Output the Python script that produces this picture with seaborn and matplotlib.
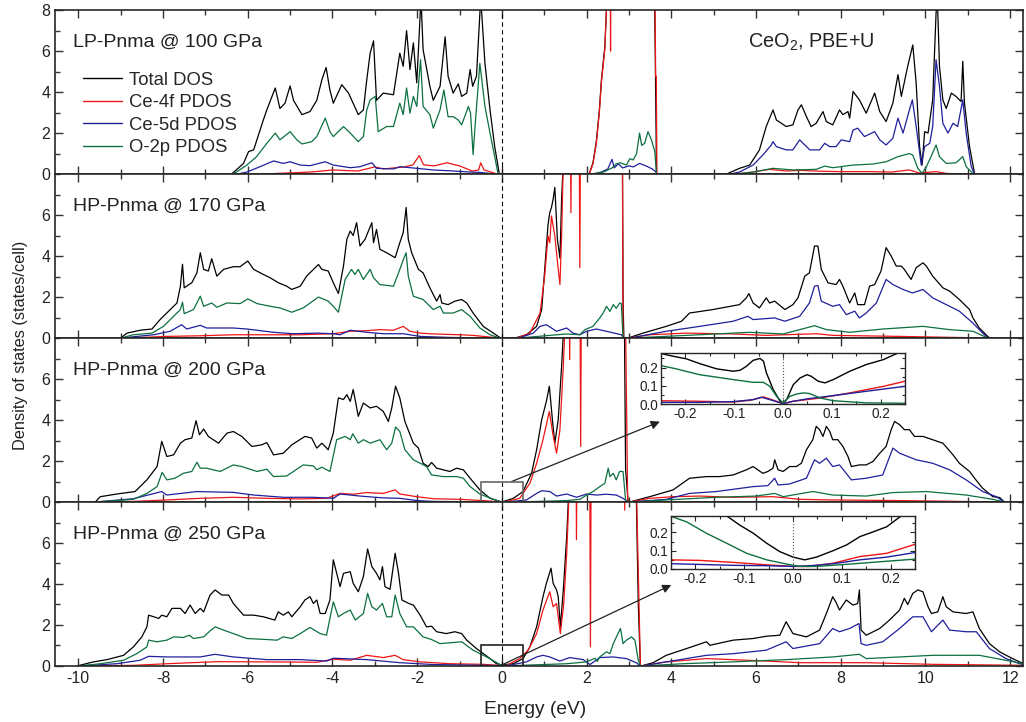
import numpy as np
import pandas as pd
import matplotlib
matplotlib.use("Agg")
import matplotlib.pyplot as plt
import matplotlib.patches as mpatches
from matplotlib.lines import Line2D
from matplotlib.ticker import MultipleLocator, FormatStrFormatter
import seaborn as sns

# ---- data: (energy eV, DOS states/cell) ----
SERIES = ["Total DOS", "Ce-4f PDOS", "Ce-5d PDOS", "O-2p PDOS"]
COLORS = ["#000000", "#ee1515", "#1f1f9c", "#0c7040"]
PANEL_LABELS = ["LP-Pnma @ 100 GPa", "HP-Pnma @ 170 GPa", "HP-Pnma @ 200 GPa", "HP-Pnma @ 250 GPa"]

# 100 GPa
p100_total = [(-6.38,0),(-6.10,0.52),(-5.98,1.1),(-5.86,1.18),(-5.63,2.65),(-5.55,3.13),(-5.35,4.2),(-5.24,3.2),(-5.12,3.46),(-5.0,4.3),(-4.92,3.6),(-4.72,2.9),(-4.53,3.05),(-4.37,3.6),(-4.25,4.6),(-4.15,5.2),(-4.06,4.1),(-3.98,3.46),(-3.78,4.36),(-3.62,3.95),(-3.39,2.9),(-3.27,3.13),(-3.19,4.6),(-3.11,5.9),(-3.03,6.5),(-2.96,3.6),(-2.80,3.95),(-2.56,3.87),(-2.41,5.9),(-2.33,5.26),(-2.25,7.0),(-2.17,5.1),(-2.09,6.4),(-2.01,4.45),(-1.95,6.9),(-1.91,8.6),(-1.86,6.07),(-1.70,4.28),(-1.62,3.6),(-1.46,4.28),(-1.34,6.7),(-1.27,4.77),(-1.15,3.95),(-1.03,4.4),(-0.95,3.79),(-0.83,3.95),(-0.75,5.1),(-0.69,4.28),(-0.60,4.77),(-0.50,8.6),(-0.40,5.4),(-0.28,3.13),(-0.17,1.34),(-0.06,0),
              (2.06,0),(2.15,0.55),(2.23,1.6),(2.30,3.1),(2.35,4.6),(2.43,6.2),(2.48,8.6),(2.53,12),(3.58,12),(3.62,6.0),(3.65,0),
              (5.30,0),(5.61,0.28),(5.85,0.44),(6.08,1.18),(6.24,2.32),(6.40,3.13),(6.48,2.64),(6.71,2.32),(6.87,2.4),(6.99,3.13),(7.07,3.38),(7.19,2.8),(7.30,2.32),(7.42,2.48),(7.58,3.05),(7.66,2.56),(7.81,2.4),(7.97,3.13),(8.05,2.9),(8.17,3.05),(8.21,2.73),(8.29,4.03),(8.44,3.62),(8.60,2.97),(8.80,3.95),(8.92,3.05),(9.07,2.56),(9.23,3.46),(9.35,4.85),(9.43,3.79),(9.58,5.26),(9.70,6.3),(9.78,4.44),(9.86,1.34),(9.92,0.44),(9.98,2.07),(10.06,2.0),(10.17,3.62),(10.25,7.87),(10.28,8.6),(10.33,5.26),(10.41,3.62),(10.49,3.2),(10.61,3.95),(10.72,3.79),(10.84,3.54),(10.88,5.5),(10.92,3.46),(11.04,1.34),(11.16,0)]
p100_ce4f = [(-5.7,0),(-4.5,0.1),(-4.0,0.2),(-3.4,0.15),(-3.0,0.35),(-2.8,0.25),(-2.3,0.35),(-2.1,0.45),(-1.95,0.9),(-1.85,0.45),(-1.6,0.4),(-1.3,0.55),(-1.0,0.4),(-0.7,0.15),(-0.55,0.2),(-0.5,0.55),(-0.42,0.2),(-0.1,0),
             (2.06,0),(2.15,0.5),(2.23,1.5),(2.30,3.0),(2.35,4.5),(2.43,6.1),(2.48,8.6),(2.52,12),(2.555,12),(2.565,6.0),(2.575,12),(3.60,12),(3.63,4.77),(3.645,4.77),(3.66,0),
             (5.5,0),(5.93,0.1),(6.32,0.23),(6.7,0.15),(7.03,0.18),(7.5,0.14),(8.0,0.12),(8.7,0.12),(9.2,0.1),(9.62,0.2),(9.86,0.05),(10.25,0.12),(10.5,0.03),(11.16,0)]
p100_ce5d = [(-6.25,0),(-6.02,0.1),(-5.71,0.36),(-5.39,0.64),(-5.16,0.52),(-5.0,0.6),(-4.76,0.44),(-4.53,0.41),(-4.17,0.6),(-3.98,0.44),(-3.58,0.31),(-3.35,0.36),(-3.07,0.55),(-2.96,0.28),(-2.56,0.25),(-2.41,0.36),(-2.01,0.28),(-1.62,0.2),(-1.23,0.16),(-0.83,0.11),(-0.52,0.08),(-0.13,0),
             (2.15,0),(2.35,0.1),(2.50,0.25),(2.60,0.72),(2.65,0.3),(2.75,0.5),(2.85,0.3),(3.0,0.4),(3.1,0.35),(3.25,0.52),(3.4,0.4),(3.55,0.25),(3.64,0.1),(3.66,0),
             (5.38,0),(5.61,0.1),(5.93,0.44),(6.16,0.93),(6.36,1.42),(6.40,1.58),(6.48,1.34),(6.71,1.18),(6.87,1.18),(7.03,1.67),(7.11,1.5),(7.27,1.18),(7.50,1.18),(7.62,1.5),(7.74,1.34),(7.89,1.34),(8.01,1.67),(8.21,1.58),(8.29,2.15),(8.40,2.24),(8.56,1.83),(8.80,2.07),(8.92,1.67),(9.07,1.42),(9.23,1.75),(9.35,2.73),(9.47,2.0),(9.62,3.13),(9.69,3.62),(9.78,2.32),(9.90,0.44),(9.98,1.34),(10.10,1.5),(10.17,2.32),(10.25,5.58),(10.33,4.28),(10.41,2.48),(10.53,2.0),(10.65,2.48),(10.76,2.32),(10.88,3.62),(10.96,2.0),(11.08,0.36),(11.16,0)]
p100_o2p = [(-6.34,0),(-6.02,0.44),(-5.79,0.85),(-5.55,1.5),(-5.35,2.0),(-5.24,1.67),(-5.0,2.07),(-4.84,1.67),(-4.72,1.47),(-4.49,1.58),(-4.37,1.83),(-4.17,2.73),(-4.06,2.07),(-3.98,1.83),(-3.74,2.32),(-3.58,2.0),(-3.39,1.58),(-3.27,1.83),(-3.19,3.13),(-3.11,3.62),(-2.99,3.79),(-2.92,2.07),(-2.72,2.32),(-2.56,2.32),(-2.41,3.46),(-2.33,2.9),(-2.25,4.2),(-2.17,2.97),(-2.09,3.79),(-2.01,3.3),(-1.92,5.58),(-1.86,3.3),(-1.70,2.9),(-1.62,2.24),(-1.46,3.13),(-1.37,4.1),(-1.27,2.8),(-1.15,2.8),(-1.03,2.64),(-0.95,2.4),(-0.79,3.3),(-0.74,2.97),(-0.68,0.95),(-0.64,2.15),(-0.52,5.4),(-0.40,3.3),(-0.28,2.0),(-0.17,0.85),(-0.09,0),
            (2.10,0),(2.4,0.1),(2.6,0.3),(2.7,0.5),(2.8,0.55),(2.94,0.44),(3.02,0.75),(3.10,0.69),(3.18,1.0),(3.25,2.0),(3.30,1.4),(3.37,1.5),(3.45,2.07),(3.53,1.67),(3.61,1.1),(3.65,0),
            (5.5,0),(5.93,0.1),(6.40,0.28),(6.87,0.2),(7.42,0.23),(7.62,0.39),(7.81,0.31),(8.29,0.44),(8.76,0.49),(9.07,0.6),(9.35,0.85),(9.62,1.0),(9.70,0.93),(9.82,0.28),(9.92,0.03),(10.02,0.36),(10.13,0.85),(10.25,1.42),(10.33,0.85),(10.49,0.52),(10.72,0.55),(10.88,0.85),(10.96,0.36),(11.12,0.03),(11.16,0)]

# 170 GPa
p170_total = [(-9.0,0),(-8.85,0.24),(-8.54,0.38),(-8.26,0.44),(-8.07,0.9),(-7.83,1.39),(-7.67,1.71),(-7.59,2.53),(-7.54,3.6),(-7.50,2.45),(-7.32,2.7),(-7.20,3.18),(-7.12,4.16),(-7.04,3.35),(-6.93,3.27),(-6.85,3.87),(-6.73,3.02),(-6.57,3.35),(-6.34,3.48),(-6.18,3.48),(-6.0,3.76),(-5.86,3.35),(-5.63,3.1),(-5.47,2.94),(-5.28,2.7),(-5.08,2.53),(-4.96,2.37),(-4.76,2.53),(-4.61,3.02),(-4.33,3.59),(-4.25,3.35),(-4.10,3.27),(-3.98,2.7),(-3.86,2.17),(-3.74,3.51),(-3.66,4.82),(-3.58,5.22),(-3.51,5.0),(-3.43,5.63),(-3.35,4.49),(-3.23,4.82),(-3.07,5.63),(-3.03,4.65),(-2.96,5.3),(-2.88,4.33),(-2.72,4.16),(-2.52,3.92),(-2.41,4.65),(-2.33,5.14),(-2.26,6.37),(-2.21,4.82),(-2.13,4.16),(-1.97,3.35),(-1.86,3.18),(-1.70,2.45),(-1.54,1.8),(-1.46,2.12),(-1.42,1.71),(-1.27,1.63),(-1.11,1.8),(-0.95,1.88),(-0.83,1.71),(-0.68,1.22),(-0.44,0.57),(-0.20,0.24),(-0.05,0.03),(0.0,0),
              (0.31,0),(0.58,0.16),(0.82,0.57),(0.94,1.39),(1.01,3.35),(1.09,5.55),(1.13,6.12),(1.17,6.37),(1.21,6.78),(1.25,7.35),(1.31,4.82),(1.37,3.9),(1.41,6.78),(1.45,8.6),(1.5,12),(2.84,12),(2.86,1.85),(2.88,0),
              (2.98,0),(3.33,0.24),(3.88,0.57),(4.24,0.82),(4.43,1.22),(4.98,1.39),(5.61,1.63),(5.77,1.96),(5.83,2.17),(5.93,1.71),(6.08,1.47),(6.24,1.96),(6.32,1.71),(6.44,1.8),(6.68,1.39),(6.87,1.63),(6.99,1.96),(7.15,3.02),(7.26,3.18),(7.38,4.49),(7.46,4.49),(7.54,3.35),(7.70,2.69),(7.89,2.61),(7.97,2.86),(8.05,2.53),(8.21,1.71),(8.33,2.2),(8.40,1.63),(8.56,1.63),(8.68,2.53),(8.80,2.61),(8.95,3.27),(9.07,4.41),(9.19,4.0),(9.31,3.51),(9.43,3.51),(9.50,3.35),(9.66,2.86),(9.78,3.43),(9.94,3.67),(10.02,3.51),(10.17,3.02),(10.41,2.45),(10.57,2.29),(10.80,1.88),(11.04,1.39),(11.12,0.98),(11.27,0.49),(11.47,0.08),(11.52,0)]
p170_ce4f = [(-8.9,0),(-7.91,0.08),(-7.12,0.11),(-6.34,0.16),(-4.76,0.16),(-3.98,0.21),(-3.58,0.33),(-3.19,0.36),(-2.88,0.41),(-2.56,0.38),(-2.33,0.57),(-2.17,0.33),(-1.93,0.24),(-1.62,0.2),(-0.99,0.16),(-0.68,0.13),(-0.05,0),
             (0.35,0),(0.66,0.24),(0.90,1.22),(1.01,3.02),(1.09,4.98),(1.13,4.65),(1.17,5.96),(1.25,4.98),(1.33,3.35),(1.37,2.61),(1.41,4.98),(1.45,8.6),(1.5,12),(1.61,12),(1.63,6.12),(1.65,12),(1.82,12),(1.84,3.43),(1.86,12),(2.84,12),(2.86,0),
             (2.98,0),(3.49,0.16),(4.36,0.24),(5.46,0.2),(6.24,0.13),(7.42,0.21),(7.81,0.13),(9.39,0.08),(11.5,0)]
p170_ce5d = [(-9.0,0),(-8.22,0.16),(-7.83,0.33),(-7.56,0.65),(-7.44,0.44),(-7.12,0.62),(-6.97,0.49),(-6.34,0.49),(-6.02,0.44),(-5.39,0.28),(-4.92,0.21),(-4.37,0.24),(-3.98,0.21),(-3.82,0.16),(-3.58,0.38),(-3.19,0.28),(-2.80,0.21),(-2.33,0.21),(-1.93,0.08),(-1.23,0.03),(-0.05,0),
             (0.40,0),(0.74,0.24),(0.90,0.57),(1.05,0.65),(1.29,0.33),(1.53,0.49),(1.68,0.24),(1.84,0.16),(2.0,0.33),(2.23,0.44),(2.55,0.29),(2.82,0.16),(2.88,0),
             (3.02,0),(3.88,0.33),(4.67,0.57),(5.46,0.82),(5.81,1.06),(5.93,0.9),(6.24,0.95),(6.44,0.98),(6.68,0.82),(7.03,1.06),(7.26,1.71),(7.38,2.53),(7.46,2.56),(7.54,1.8),(7.81,1.55),(7.97,1.63),(8.13,1.14),(8.33,1.31),(8.44,0.98),(8.60,1.22),(8.84,1.71),(9.07,2.86),(9.23,2.61),(9.47,2.37),(9.69,2.2),(9.94,2.37),(10.17,1.96),(10.49,1.63),(10.80,1.31),(11.12,0.73),(11.35,0.24),(11.47,0)]
p170_o2p = [(-9.0,0),(-8.7,0.16),(-8.26,0.24),(-7.99,0.57),(-7.75,1.06),(-7.59,1.39),(-7.54,1.75),(-7.50,1.19),(-7.28,1.39),(-7.12,2.04),(-7.04,1.55),(-6.85,1.71),(-6.73,1.5),(-6.49,1.71),(-6.18,1.68),(-6.0,1.91),(-5.78,1.68),(-5.47,1.55),(-5.24,1.47),(-4.96,1.26),(-4.69,1.47),(-4.33,2.0),(-4.10,1.8),(-3.98,1.55),(-3.86,1.26),(-3.70,2.86),(-3.55,3.35),(-3.47,3.1),(-3.39,3.35),(-3.27,2.86),(-3.11,3.35),(-3.03,2.94),(-2.88,2.61),(-2.56,2.53),(-2.41,3.35),(-2.31,3.92),(-2.26,4.16),(-2.21,3.02),(-2.09,2.04),(-1.86,1.88),(-1.62,1.39),(-1.46,1.55),(-1.38,1.22),(-1.15,1.22),(-0.95,1.39),(-0.75,1.06),(-0.52,0.49),(-0.28,0.16),(-0.05,0),
            (0.4,0),(1.13,0.13),(1.53,0.2),(1.84,0.16),(1.96,0.41),(2.15,0.57),(2.31,0.98),(2.39,1.22),(2.47,1.55),(2.55,1.3),(2.63,1.63),(2.70,1.45),(2.78,1.71),(2.82,1.68),(2.86,0),
            (3.02,0),(4.67,0.16),(5.85,0.28),(6.64,0.2),(7.38,0.6),(7.66,0.41),(8.21,0.28),(8.99,0.44),(9.94,0.57),(10.57,0.41),(11.12,0.33),(11.47,0)]

# 200 GPa
p200_total = [(-9.6,0),(-9.48,0.26),(-9.09,0.39),(-8.66,0.51),(-8.38,1.08),(-8.14,1.73),(-8.03,2.96),(-7.91,2.22),(-7.75,2.3),(-7.59,2.87),(-7.48,3.04),(-7.32,3.12),(-7.22,3.97),(-7.14,3.28),(-7.04,3.56),(-6.93,3.2),(-6.69,2.87),(-6.49,3.36),(-6.34,3.44),(-6.14,3.2),(-5.90,2.71),(-5.67,2.79),(-5.55,2.9),(-5.39,2.3),(-5.16,2.38),(-4.96,2.79),(-4.65,3.2),(-4.49,3.12),(-4.37,2.63),(-4.25,2.87),(-4.10,2.55),(-3.98,3.36),(-3.86,5.08),(-3.74,5.0),(-3.66,5.24),(-3.58,4.91),(-3.51,5.49),(-3.39,4.18),(-3.27,4.83),(-3.11,4.59),(-2.96,4.67),(-2.80,4.42),(-2.68,3.93),(-2.60,4.59),(-2.51,5.65),(-2.41,5.08),(-2.29,3.93),(-2.09,2.87),(-1.97,2.63),(-1.86,1.89),(-1.74,1.73),(-1.66,1.93),(-1.54,1.65),(-1.23,1.49),(-1.07,1.65),(-0.91,1.57),(-0.75,1.16),(-0.52,0.59),(-0.28,0.18),(-0.05,0.03),(0.0,0),
              (0.03,0.02),(0.27,0.18),(0.50,0.51),(0.70,1.4),(0.82,2.55),(0.94,4.02),(1.05,4.91),(1.12,5.65),(1.20,3.85),(1.25,2.87),(1.33,4.02),(1.41,6.63),(1.46,8.6),(1.5,12),(2.88,12),(2.92,1.6),(2.98,0),
              (3.02,0),(3.49,0.26),(4.04,0.59),(4.43,1.16),(4.83,1.24),(5.14,1.24),(5.46,1.32),(5.77,1.57),(5.93,1.73),(6.16,1.4),(6.28,1.49),(6.40,1.65),(6.44,2.06),(6.52,1.57),(6.64,1.49),(6.79,1.73),(6.95,1.73),(7.07,1.89),(7.19,2.55),(7.34,3.04),(7.42,3.69),(7.50,3.53),(7.58,3.2),(7.66,3.69),(7.74,3.44),(7.81,3.04),(7.93,3.04),(8.05,2.71),(8.17,2.22),(8.25,1.73),(8.44,1.81),(8.60,1.81),(8.76,1.98),(8.92,2.38),(9.07,2.71),(9.19,3.53),(9.27,3.93),(9.39,3.77),(9.50,3.53),(9.62,3.53),(9.74,3.2),(9.94,3.2),(10.17,3.04),(10.41,2.87),(10.65,2.3),(10.80,1.89),(11.04,1.49),(11.19,1.08),(11.35,0.67),(11.59,0.26),(11.75,0.22),(11.86,0)]
p200_ce4f = [(-9.6,0),(-8.7,0.03),(-7.91,0.1),(-7.12,0.18),(-6.34,0.23),(-5.55,0.18),(-4.76,0.15),(-4.14,0.18),(-3.82,0.42),(-3.51,0.38),(-3.19,0.46),(-2.80,0.42),(-2.52,0.59),(-2.41,0.39),(-2.01,0.26),(-1.62,0.16),(-0.99,0.13),(-0.44,0.07),(0.0,0),
             (0.11,0.02),(0.42,0.18),(0.66,0.91),(0.82,1.89),(0.97,3.04),(1.12,4.42),(1.20,3.36),(1.29,2.38),(1.37,3.53),(1.45,6.63),(1.49,8.6),(1.52,12),(1.58,12),(1.60,6.95),(1.62,12),(1.84,12),(1.86,2.71),(1.88,12),(2.90,12),(2.97,0),
             (3.02,0),(3.49,0.18),(4.04,0.26),(4.67,0.29),(5.46,0.23),(6.40,0.26),(7.03,0.13),(7.81,0.1),(9.39,0.07),(11.86,0)]
p200_ce5d = [(-9.6,0),(-8.7,0.16),(-8.03,0.51),(-7.91,0.34),(-7.20,0.51),(-6.34,0.47),(-5.86,0.34),(-5.16,0.23),(-4.45,0.23),(-3.98,0.18),(-3.82,0.39),(-3.35,0.29),(-2.80,0.2),(-2.41,0.18),(-2.01,0.07),(-1.62,0.03),(0.0,0),
             (0.2,0.02),(0.58,0.1),(0.82,0.42),(0.94,0.55),(1.13,0.51),(1.29,0.29),(1.53,0.39),(1.76,0.23),(2.0,0.39),(2.23,0.34),(2.47,0.38),(2.70,0.34),(2.86,0.18),(2.98,0),
             (3.02,0),(3.88,0.13),(4.43,0.42),(5.06,0.51),(5.93,0.75),(6.28,0.8),(6.44,1.16),(6.52,0.83),(6.79,0.88),(7.19,1.16),(7.38,2.06),(7.50,1.89),(7.66,2.14),(7.81,1.73),(7.97,1.81),(8.25,1.08),(8.60,1.16),(8.99,1.32),(9.23,2.63),(9.39,2.38),(9.78,2.06),(10.17,1.89),(10.57,1.57),(10.96,1.08),(11.35,0.51),(11.67,0.26),(11.86,0)]
p200_o2p = [(-9.6,0),(-8.7,0.13),(-8.38,0.42),(-8.14,0.75),(-8.02,1.45),(-7.91,1.08),(-7.72,1.16),(-7.52,1.4),(-7.32,1.49),(-7.20,1.94),(-7.12,1.65),(-6.97,1.65),(-6.65,1.49),(-6.34,1.81),(-6.14,1.73),(-5.78,1.49),(-5.55,1.6),(-5.39,1.24),(-5.08,1.27),(-4.69,1.81),(-4.45,1.76),(-4.37,1.57),(-4.25,1.7),(-4.06,1.49),(-3.90,3.04),(-3.70,3.2),(-3.58,3.04),(-3.52,3.33),(-3.39,2.87),(-3.27,3.04),(-3.11,2.87),(-2.88,3.04),(-2.72,2.55),(-2.60,2.87),(-2.51,3.66),(-2.41,3.44),(-2.29,2.55),(-2.09,2.06),(-1.90,1.86),(-1.78,1.73),(-1.66,1.32),(-1.38,1.24),(-1.07,1.24),(-0.91,1.16),(-0.75,0.75),(-0.52,0.39),(-0.20,0.13),(0.0,0),
            (0.5,0.01),(1.53,0.07),(1.84,0.13),(2.0,0.34),(2.15,0.51),(2.31,0.75),(2.43,0.91),(2.51,1.65),(2.55,1.24),(2.63,1.4),(2.70,1.08),(2.78,1.49),(2.86,1.49),(2.92,0.1),(2.98,0),
            (3.02,0),(3.88,0.1),(5.06,0.23),(6.0,0.29),(6.44,0.42),(6.64,0.26),(7.34,0.51),(7.81,0.34),(8.6,0.29),(9.23,0.46),(10.02,0.51),(10.96,0.34),(11.59,0.13),(11.86,0)]

# 250 GPa
p250_total = [(-10.03,0),(-9.64,0.2),(-9.32,0.31),(-8.93,0.52),(-8.70,0.93),(-8.50,1.42),(-8.38,1.91),(-8.34,2.48),(-8.22,2.4),(-8.10,2.32),(-8.03,2.48),(-7.91,2.4),(-7.79,2.81),(-7.59,2.81),(-7.48,2.56),(-7.36,2.97),(-7.24,2.56),(-7.12,2.81),(-7.04,2.64),(-6.89,3.46),(-6.77,3.71),(-6.61,3.46),(-6.45,3.46),(-6.34,3.05),(-6.10,2.48),(-5.86,2.48),(-5.63,2.4),(-5.36,2.24),(-5.28,2.64),(-5.16,2.48),(-5.04,2.64),(-4.96,2.4),(-4.76,2.89),(-4.65,3.22),(-4.53,3.38),(-4.45,3.05),(-4.37,3.22),(-4.29,2.56),(-4.17,2.56),(-4.06,3.22),(-3.98,5.18),(-3.90,4.52),(-3.82,3.87),(-3.74,4.52),(-3.58,4.6),(-3.51,4.03),(-3.39,3.62),(-3.27,4.36),(-3.17,5.71),(-3.07,4.85),(-2.96,4.52),(-2.88,4.2),(-2.82,4.85),(-2.76,3.87),(-2.64,3.74),(-2.52,5.5),(-2.44,4.52),(-2.36,3.22),(-2.20,3.05),(-2.09,2.97),(-1.93,2.48),(-1.78,1.91),(-1.66,1.94),(-1.54,1.67),(-1.31,1.58),(-1.11,1.67),(-0.95,1.58),(-0.83,1.26),(-0.60,0.85),(-0.28,0.36),(-0.13,0.11),(0.0,0.05),
              (0.27,0.11),(0.50,0.36),(0.66,0.93),(0.82,1.91),(0.97,3.38),(1.05,4.03),(1.16,4.77),(1.21,4.03),(1.29,3.71),(1.33,3.38),(1.38,1.91),(1.45,3.71),(1.53,6.32),(1.58,8.6),(1.62,12),(3.14,12),(3.22,3.0),(3.27,0),
              (3.29,0),(3.57,0.16),(3.88,0.52),(4.36,0.85),(4.83,1.18),(4.91,1.01),(5.46,1.26),(5.93,1.34),(6.24,1.45),(6.56,1.5),(6.71,2.16),(6.87,1.58),(7.19,1.42),(7.50,1.75),(7.66,2.56),(7.81,3.38),(7.89,3.1),(7.97,2.73),(8.13,3.22),(8.29,2.97),(8.40,3.05),(8.44,3.71),(8.48,1.75),(8.60,1.5),(8.92,1.83),(9.15,2.24),(9.39,2.73),(9.50,3.3),(9.58,3.0),(9.70,3.54),(9.82,3.71),(9.94,3.62),(10.06,2.89),(10.14,2.56),(10.29,2.64),(10.41,3.38),(10.49,2.89),(10.65,2.64),(10.96,2.56),(11.12,2.64),(11.27,1.83),(11.51,1.09),(11.75,0.69),(11.98,0.44),(12.22,0.2),(12.4,0.05)]
p250_ce4f = [(-10.0,0),(-8.7,0.03),(-7.91,0.11),(-6.73,0.21),(-5.55,0.2),(-4.37,0.18),(-3.98,0.33),(-3.58,0.28),(-3.19,0.52),(-2.80,0.41),(-2.52,0.52),(-2.33,0.31),(-1.93,0.2),(-1.23,0.11),(-0.44,0.08),(0.0,0.02),
             (0.11,0.03),(0.42,0.36),(0.62,0.77),(0.82,1.58),(0.97,2.73),(1.13,3.62),(1.21,2.89),(1.29,3.05),(1.38,1.58),(1.46,3.05),(1.53,5.5),(1.59,8.6),(1.62,12),(1.75,12),(1.76,6.16),(1.78,12),(2.07,12),(2.09,0.93),(2.11,12),(2.88,12),(2.90,7.6),(2.92,12),(3.14,12),(3.27,0),
             (3.29,0),(3.88,0.2),(4.83,0.36),(6.24,0.24),(7.03,0.16),(8.6,0.16),(10.17,0.08),(12.4,0.03)]
p250_ce5d = [(-10.0,0),(-9.09,0.11),(-8.54,0.28),(-8.34,0.47),(-7.91,0.44),(-7.12,0.44),(-6.77,0.57),(-6.34,0.44),(-5.55,0.31),(-4.76,0.31),(-4.14,0.24),(-3.98,0.38),(-3.19,0.31),(-2.41,0.16),(-1.62,0.07),(0.0,0.02),
             (0.2,0.04),(0.58,0.2),(0.82,0.44),(0.97,0.52),(1.13,0.44),(1.37,0.24),(1.60,0.41),(1.92,0.31),(2.08,0.07),(2.31,0.41),(2.63,0.44),(2.94,0.36),(3.18,0.15),(3.27,0),
             (3.29,0),(3.88,0.2),(4.83,0.52),(5.46,0.6),(6.24,0.77),(6.71,1.18),(6.87,0.85),(7.50,1.09),(7.81,1.83),(7.97,1.67),(8.21,1.83),(8.43,2.07),(8.48,1.09),(8.60,1.01),(8.99,1.18),(9.39,1.83),(9.70,2.4),(9.94,2.4),(10.14,1.67),(10.41,2.24),(10.57,1.75),(10.96,1.67),(11.20,1.67),(11.51,0.85),(11.90,0.36),(12.22,0.11),(12.4,0.05)]
p250_o2p = [(-10.0,0),(-9.48,0.11),(-8.93,0.28),(-8.62,0.6),(-8.38,0.93),(-8.34,1.26),(-8.14,1.18),(-7.91,1.26),(-7.75,1.42),(-7.52,1.39),(-7.38,1.5),(-7.28,1.34),(-7.04,1.42),(-6.89,1.71),(-6.77,1.91),(-6.57,1.75),(-6.34,1.58),(-6.02,1.34),(-5.55,1.29),(-5.31,1.26),(-5.16,1.42),(-4.96,1.34),(-4.76,1.58),(-4.53,1.88),(-4.29,1.58),(-4.14,1.5),(-3.98,3.13),(-3.86,2.4),(-3.74,2.56),(-3.58,2.73),(-3.46,2.24),(-3.27,2.56),(-3.17,3.54),(-3.07,2.89),(-2.96,2.73),(-2.82,3.05),(-2.72,2.4),(-2.60,2.4),(-2.52,3.46),(-2.41,2.56),(-2.25,1.91),(-2.09,1.91),(-1.86,1.42),(-1.66,1.29),(-1.46,1.09),(-0.95,1.18),(-0.68,0.77),(-0.36,0.44),(-0.05,0.08),(0.0,0.03),
            (0.3,0.02),(1.53,0.11),(2.0,0.2),(2.2,0.38),(2.25,0.22),(2.31,0.44),(2.47,0.69),(2.55,0.6),(2.63,1.09),(2.74,1.58),(2.80,1.83),(2.86,1.09),(2.94,1.26),(3.06,1.42),(3.14,1.26),(3.22,0.28),(3.27,0),
            (3.29,0),(4.28,0.11),(5.46,0.2),(6.71,0.31),(7.81,0.44),(8.44,0.57),(8.60,0.36),(9.39,0.44),(10.17,0.52),(11.27,0.52),(12.22,0.15),(12.4,0.05)]

# insets around the Fermi level (200 GPa, 250 GPa)
i200_total = [(-0.25,0.277),(-0.225,0.262),(-0.198,0.248),(-0.171,0.222),(-0.136,0.193),(-0.102,0.18),(-0.088,0.185),(-0.075,0.207),(-0.061,0.24),(-0.047,0.25),(-0.04,0.235),(-0.034,0.171),(-0.02,0.079),(-0.006,0.015),(0.0,0.004),(0.0075,0.024),(0.021,0.106),(0.035,0.143),(0.049,0.161),(0.058,0.152),(0.072,0.125),(0.086,0.116),(0.103,0.134),(0.137,0.18),(0.171,0.217),(0.206,0.244),(0.233,0.277),(0.25,0.29)]
i200_ce4f = [(-0.25,0.018),(-0.171,0.015),(-0.102,0.011),(-0.068,0.02),(-0.04,0.039),(-0.023,0.024),(0.0,0.002),(0.021,0.015),(0.049,0.024),(0.076,0.033),(0.137,0.061),(0.206,0.097),(0.25,0.125)]
i200_ce5d = [(-0.25,0.009),(-0.171,0.009),(-0.102,0.013),(-0.061,0.024),(-0.044,0.037),(-0.027,0.024),(0.0,0.002),(0.021,0.015),(0.049,0.028),(0.076,0.037),(0.103,0.046),(0.171,0.07),(0.25,0.097)]
i200_o2p = [(-0.25,0.211),(-0.219,0.193),(-0.171,0.161),(-0.102,0.134),(-0.061,0.119),(-0.04,0.119),(-0.027,0.097),(-0.013,0.042),(0.0,0.006),(0.014,0.042),(0.028,0.055),(0.042,0.061),(0.055,0.057),(0.076,0.033),(0.103,0.018),(0.171,0.006),(0.25,0.004)]
i250_total = [(-0.25,0.5),(-0.2,0.42),(-0.16,0.34),(-0.133,0.285),(-0.109,0.24),(-0.081,0.195),(-0.054,0.141),(-0.027,0.095),(0.0,0.065),(0.024,0.05),(0.048,0.065),(0.083,0.101),(0.11,0.132),(0.137,0.177),(0.165,0.204),(0.192,0.231),(0.219,0.285),(0.25,0.34)]
i250_ce4f = [(-0.25,0.05),(-0.19,0.047),(-0.122,0.036),(-0.054,0.023),(0.0,0.014),(0.035,0.014),(0.083,0.032),(0.137,0.068),(0.192,0.086),(0.25,0.135)]
i250_ce5d = [(-0.25,0.029),(-0.19,0.025),(-0.122,0.02),(-0.054,0.018),(0.0,0.014),(0.035,0.018),(0.083,0.029),(0.137,0.05),(0.192,0.065),(0.25,0.09)]
i250_o2p = [(-0.25,0.288),(-0.218,0.258),(-0.177,0.195),(-0.136,0.141),(-0.095,0.086),(-0.054,0.05),(-0.013,0.027),(0.014,0.014),(0.048,0.014),(0.117,0.027),(0.185,0.041),(0.25,0.054)]

PANELS = [
    [p100_total, p100_ce4f, p100_ce5d, p100_o2p],
    [p170_total, p170_ce4f, p170_ce5d, p170_o2p],
    [p200_total, p200_ce4f, p200_ce5d, p200_o2p],
    [p250_total, p250_ce4f, p250_ce5d, p250_o2p],
]
INSETS = {2: [i200_total, i200_ce4f, i200_ce5d, i200_o2p],
          3: [i250_total, i250_ce4f, i250_ce5d, i250_o2p]}


def to_frame(curves):
    rows = []
    for name, pts in zip(SERIES, curves):
        for e, d in pts:
            rows.append((name, e, d))
    return pd.DataFrame(rows, columns=["series", "energy", "dos"])


def draw_curves(ax, curves, lw):
    sns.lineplot(data=to_frame(curves), x="energy", y="dos", hue="series",
                 hue_order=SERIES, palette=COLORS, estimator=None, sort=False,
                 linewidth=lw, legend=False, ax=ax)


# --- style ---
sns.set_style("ticks")
plt.rcParams["font.family"] = ["Liberation Sans", "DejaVu Sans"]
plt.rcParams["axes.unicode_minus"] = False
plt.rcParams["mathtext.default"] = "regular"

fig, axes = plt.subplots(4, 1, sharex=True, figsize=(10.26, 7.22), dpi=100,
                         gridspec_kw=dict(hspace=0))
fig.subplots_adjust(left=0.0536, right=0.997, top=0.986, bottom=0.0776)

for i, ax in enumerate(axes):
    draw_curves(ax, PANELS[i], 0.9)
    ax.axvline(0, color="k", lw=0.8, ls=(0, (4, 3)), zorder=1)
    ax.set_xlim(-10.55, 12.3)
    ax.set_ylim(0, 8)
    ax.xaxis.set_major_locator(MultipleLocator(2))
    ax.xaxis.set_minor_locator(MultipleLocator(1))
    ax.set_yticks([0, 2, 4, 6, 8] if i == 0 else [0, 2, 4, 6])
    ax.yaxis.set_minor_locator(MultipleLocator(1))
    ax.tick_params(which="both", direction="in", top=True, right=True,
                   labelsize=11.5, width=1.0, color="#333333", labelcolor="#222222")
    ax.tick_params(which="major", length=6)
    ax.tick_params(which="minor", length=3.5)
    for s in ax.spines.values():
        s.set_linewidth(1.2)
    ax.set_xlabel("")
    ax.set_ylabel("")
    ax.text(0.0186, 0.805, PANEL_LABELS[i], transform=ax.transAxes,
            fontsize=14, va="center", ha="left", color="#222222")

axes[0].text(0.716, 0.805, "CeO$_2$, PBE+U", transform=axes[0].transAxes,
             fontsize=14.3, va="center", ha="left", color="#222222")

handles = [Line2D([], [], color=c, lw=1.0) for c in COLORS]
axes[0].legend(handles, SERIES, loc="upper left", bbox_to_anchor=(0.029, 0.625),
               frameon=False, fontsize=13.3, handlelength=2.1, handletextpad=0.4,
               labelspacing=0.3, borderpad=0, borderaxespad=0)

# zoom boxes and arrows
axes[2].add_patch(mpatches.Rectangle((-0.5, 0), 1.0, 1.0, fill=False,
                                     edgecolor="#666666", lw=1.2, zorder=4))
axes[2].annotate("", xy=(3.73, 3.92), xytext=(0.23, 1.0),
                 arrowprops=dict(arrowstyle="-|>", color="#222222", lw=0.9,
                                 mutation_scale=13, shrinkA=0, shrinkB=0))
axes[3].add_patch(mpatches.Rectangle((-0.5, 0), 1.0, 1.0, fill=False,
                                     edgecolor="#222222", lw=1.2, zorder=4))
axes[3].annotate("", xy=(4.0, 3.95), xytext=(0.0, 0.05),
                 arrowprops=dict(arrowstyle="-|>", color="#222222", lw=0.9,
                                 mutation_scale=13, shrinkA=0, shrinkB=0))

# insets
inset_boxes = {2: ([661 / 1026, 1 - 404 / 722, 244 / 1026, 51 / 722], 0.28),
               3: ([671 / 1026, 1 - 569 / 722, 244 / 1026, 53 / 722], 0.29)}
for k, (rect, ytop) in inset_boxes.items():
    ins = fig.add_axes(rect)
    ins.set_facecolor("white")
    draw_curves(ins, INSETS[k], 1.0)
    ins.axvline(0, color="#555555", lw=0.8, ls=":")
    ins.set_xlim(-0.25, 0.25)
    ins.set_ylim(0, ytop)
    ins.xaxis.set_major_locator(MultipleLocator(0.1))
    ins.xaxis.set_minor_locator(MultipleLocator(0.05))
    ins.yaxis.set_major_locator(MultipleLocator(0.1))
    ins.yaxis.set_minor_locator(MultipleLocator(0.05))
    ins.xaxis.set_major_formatter(FormatStrFormatter("%.1f"))
    ins.yaxis.set_major_formatter(FormatStrFormatter("%.1f"))
    ins.tick_params(which="both", direction="in", top=True, right=True,
                    labelsize=9.8, width=0.8, pad=2, labelcolor="#222222")
    ins.tick_params(which="major", length=3.5)
    ins.tick_params(which="minor", length=2)
    for s in ins.spines.values():
        s.set_linewidth(1.0)
    ins.set_xlabel("")
    ins.set_ylabel("")

fig.text(0.0195, 0.522, "Density of states (states/cell)", rotation=90,
         va="center", ha="center", fontsize=11.8, color="#222222")
fig.text(0.522, 0.017, "Energy (eV)", va="center", ha="center", fontsize=13.8,
         color="#222222")

fig.savefig("out.png", dpi=100)
